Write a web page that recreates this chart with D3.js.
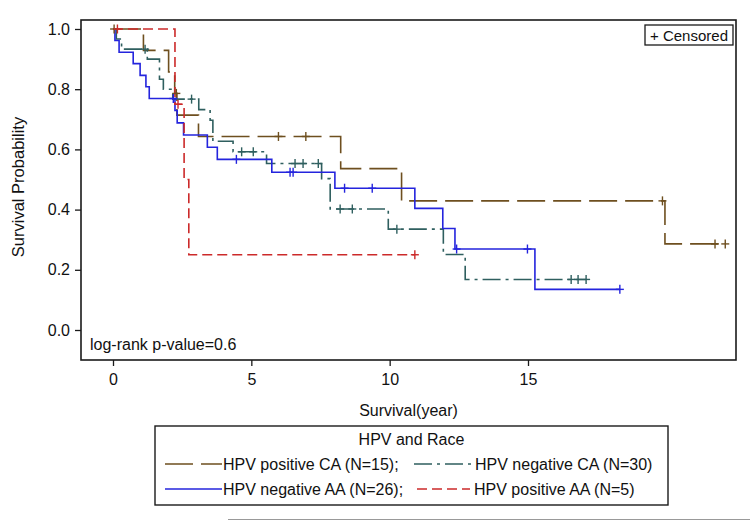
<!DOCTYPE html>
<html><head><meta charset="utf-8">
<script src="https://cdn.jsdelivr.net/npm/d3@7"></script>
<style>body{margin:0;background:#fff}svg{display:block}text{font-family:"Liberation Sans",Arial,sans-serif;fill:#111}</style>
</head><body><svg id="c" width="750" height="522"></svg>
<script>
// ---- data ----
const seriesNames = ["HPV positive CA (N=15);", "HPV negative CA (N=30)", "HPV negative AA (N=26);", "HPV positive AA (N=5)"];
const xTicks = [0, 5, 10, 15];
const yTicks = [0.0, 0.2, 0.4, 0.6, 0.8, 1.0];

// step curves: [time (years), survival]
const posCA = [[0,1],[1.10,0.929],[2.01,0.857],[2.23,0.786],[2.31,0.714],[3.09,0.643],[8.23,0.536],[10.43,0.429],[19.95,0.286],[22.13,0.286]];
const posCACens = [[0.04,1],[2.29,0.786],[5.98,0.643],[6.97,0.643],[19.86,0.429],[21.76,0.286],[22.13,0.286]];

const negCA = [[0,1],[0.12,0.967],[0.31,0.933],[1.24,0.900],[1.68,0.833],[1.82,0.800],[2.16,0.767],[3.10,0.732],[3.51,0.697],[3.61,0.627],[4.34,0.592],[5.55,0.553],[7.54,0.503],[7.85,0.402],[9.95,0.335],[11.94,0.251],[12.73,0.168],[17.10,0.168]];
const negCACens = [[1.16,0.933],[2.84,0.767],[4.65,0.592],[5.07,0.592],[6.58,0.553],[6.87,0.553],[7.42,0.553],[8.21,0.402],[8.65,0.402],[10.26,0.335],[16.56,0.168],[16.81,0.168],[17.10,0.168]];

const negAA = [[0,1],[0.07,0.962],[0.22,0.923],[0.73,0.885],[0.98,0.846],[1.19,0.808],[1.31,0.769],[2.24,0.729],[2.32,0.688],[2.55,0.648],[3.41,0.607],[3.77,0.567],[5.74,0.524],[8.02,0.471],[10.91,0.404],[11.92,0.337],[12.36,0.269],[15.25,0.135],[18.32,0.135]];
const negAACens = [[2.18,0.769],[4.46,0.567],[6.40,0.524],[6.51,0.524],[8.37,0.471],[9.37,0.471],[12.42,0.269],[14.98,0.269],[18.32,0.135]];

const posAA = [[0,1],[2.24,0.75],[2.57,0.5],[2.74,0.25],[10.91,0.25]];
const posAACens = [[0.16,1],[2.35,0.75],[10.91,0.25]];

const pValueText = "log-rank p-value=0.6";

// ---- styles ----
const styles = [
  {color:"#6e4f1f", dash:"28,8"},
  {color:"#2f5f5f", dash:"18,5,3,5"},
  {color:"#2424dd", dash:null},
  {color:"#cc2a2a", dash:"10,5"}
];
const curves = [posCA, negCA, negAA, posAA];
const cens = [posCACens, negCACens, negAACens, posAACens];

const svg = d3.select("#c");
const frame = {l:81, r:736, t:20, b:360};
const x = d3.scaleLinear().domain([0,15]).range([113, 528]);
const y = d3.scaleLinear().domain([0,1]).range([330, 29]);

// frame
svg.append("rect").attr("x",frame.l).attr("y",frame.t).attr("width",frame.r-frame.l).attr("height",frame.b-frame.t)
  .attr("fill","none").attr("stroke","#1a1a1a").attr("stroke-width",1.6);

// axes
const ax = svg.append("g").attr("transform",`translate(0,${frame.b})`)
  .call(d3.axisBottom(x).tickValues(xTicks).tickSize(6).tickPadding(8).tickFormat(d3.format("d")));
ax.select(".domain").remove();
ax.selectAll("line").attr("stroke","#1a1a1a").attr("stroke-width",1.3);
ax.selectAll("text").style("font-size","16px").attr("fill","#111");

const ay = svg.append("g").attr("transform",`translate(${frame.l},0)`)
  .call(d3.axisLeft(y).tickValues(yTicks).tickSize(6).tickPadding(5).tickFormat(d3.format(".1f")));
ay.select(".domain").remove();
ay.selectAll("line").attr("stroke","#1a1a1a").attr("stroke-width",1.3);
ay.selectAll("text").style("font-size","16px").attr("fill","#111");

// axis labels
svg.append("text").attr("x",(frame.l+frame.r)/2).attr("y",416).attr("text-anchor","middle").style("font-size","16px").text("Survival(year)");
svg.append("text").attr("transform",`translate(24,${(frame.t+frame.b)/2 - 3}) rotate(-90)`).attr("text-anchor","middle").style("font-size","16.5px").text("Survival Probability");

// p value
svg.append("text").attr("x",90).attr("y",350).style("font-size","16px").text(pValueText);

// censored box
const cb = svg.append("g");
cb.append("rect").attr("x",645).attr("y",25).attr("width",88).attr("height",20).attr("fill","#fff").attr("stroke","#1a1a1a").attr("stroke-width",1.3);
cb.append("text").attr("x",689).attr("y",41).attr("text-anchor","middle").style("font-size","15px").text("+ Censored");

// curves
const line = d3.line().x(d=>x(d[0])).y(d=>y(d[1])).curve(d3.curveStepAfter);
const plot = svg.append("g");
curves.forEach((c,i)=>{
  plot.append("path").datum(c).attr("d",line).attr("fill","none")
    .attr("stroke",styles[i].color).attr("stroke-width",1.6)
    .attr("stroke-dasharray",styles[i].dash);
});
cens.forEach((c,i)=>{
  const g = plot.append("g").attr("stroke",styles[i].color).attr("stroke-width",1.4);
  c.forEach(d=>{
    const px=x(d[0]), py=y(d[1]);
    g.append("line").attr("x1",px-4).attr("x2",px+4).attr("y1",py).attr("y2",py);
    g.append("line").attr("x1",px).attr("x2",px).attr("y1",py-4.5).attr("y2",py+4.5);
  });
});

// legend
const lg = svg.append("g");
lg.append("rect").attr("x",155).attr("y",426).attr("width",513).attr("height",79).attr("fill","none").attr("stroke","#1a1a1a").attr("stroke-width",1.4);
lg.append("text").attr("x",411.5).attr("y",445).attr("text-anchor","middle").style("font-size","16px").text("HPV and Race");
const legPos = [
  {x1:165,x2:222,tx:223,y:464},
  {x1:414,x2:471,tx:475,y:464},
  {x1:165,x2:222,tx:223,y:489},
  {x1:417,x2:470,tx:474,y:489}
];
seriesNames.forEach((n,i)=>{
  const p=legPos[i];
  lg.append("line").attr("x1",p.x1).attr("x2",p.x2).attr("y1",p.y).attr("y2",p.y)
    .attr("stroke",styles[i].color).attr("stroke-width",1.6).attr("stroke-dasharray",styles[i].dash);
  lg.append("text").attr("x",p.tx).attr("y",p.y+6).style("font-size","16px").text(n);
});

// bottom rule
svg.append("line").attr("x1",228).attr("x2",750).attr("y1",519.5).attr("y2",519.5).attr("stroke","#999").attr("stroke-width",1);
</script></body></html>
